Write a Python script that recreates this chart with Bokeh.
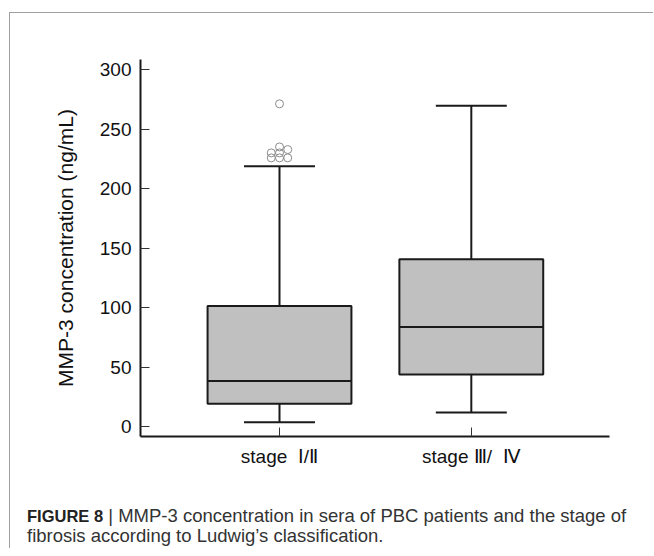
from bokeh.plotting import figure
from bokeh.models import Div
from bokeh.layouts import column
from bokeh.embed import file_html
from bokeh.resources import INLINE

# ---- data ----
categories = ["stage\u00a0 Ⅰ/Ⅱ", "stage Ⅲ/\u00a0 Ⅳ"]
lower_whisker = [4.0, 12.2]
q1 = [19.5, 44.1]
median = [38.5, 83.9]
q3 = [101.5, 140.8]
upper_whisker = [218.9, 269.6]
outlier_group = [0, 0, 0, 0, 0, 0, 0, 0]
outlier_jitter = [0.0, 0.0, 0.043, -0.043, 0.0, -0.043, 0.0, 0.043]
outlier_values = [271.3, 235.1, 232.9, 230.1, 230.1, 225.9, 225.9, 225.9]
y_ticks = [0, 50, 100, 150, 200, 250, 300]
y_label = "MMP-3 concentration (ng/mL)"
caption_bold = "FIGURE 8"
caption_line1 = "| MMP-3 concentration in sera of PBC patients and the stage of"
caption_line2 = "fibrosis according to Ludwig’s classification."

FONT = "Liberation Sans"
xpos = [i + 1 for i in range(len(categories))]
box_w = 0.75
cap_w = 0.37

p = figure(width=643, height=467, x_range=(0.2753, 2.7205), y_range=(-8, 308.5),
           output_backend="svg", toolbar_location=None,
           min_border_left=130, min_border_right=44, min_border_top=46, min_border_bottom=44)
p.outline_line_color = None
p.xgrid.visible = False
p.ygrid.visible = False
p.background_fill_color = "white"
p.border_fill_color = "white"

# whiskers
p.segment(x0=xpos, x1=xpos, y0=q3, y1=upper_whisker, line_color="#1a1a1a", line_width=2)
p.segment(x0=xpos, x1=xpos, y0=q1, y1=lower_whisker, line_color="#1a1a1a", line_width=2)
p.segment(x0=[x - cap_w / 2 for x in xpos], x1=[x + cap_w / 2 for x in xpos],
          y0=upper_whisker, y1=upper_whisker, line_color="#1a1a1a", line_width=2)
p.segment(x0=[x - cap_w / 2 for x in xpos], x1=[x + cap_w / 2 for x in xpos],
          y0=lower_whisker, y1=lower_whisker, line_color="#1a1a1a", line_width=2)
# boxes
p.vbar(x=xpos, width=box_w, bottom=q1, top=q3, fill_color="#c0c0c0",
       line_color="#1a1a1a", line_width=2)
p.segment(x0=[x - box_w / 2 for x in xpos], x1=[x + box_w / 2 for x in xpos],
          y0=median, y1=median, line_color="#1a1a1a", line_width=2)
# outliers
ox = [xpos[g] + j for g, j in zip(outlier_group, outlier_jitter)]
p.scatter(x=ox, y=outlier_values, size=8, marker="circle", fill_color=None,
          line_color="#8c8c8c", line_width=1)

# axes
for ax in (p.xaxis[0], p.yaxis[0]):
    ax.axis_line_color = "#1a1a1a"
    ax.axis_line_width = 2
    ax.major_tick_in = 9
    ax.major_tick_out = 0
    ax.minor_tick_line_color = None
    ax.major_tick_line_color = "#333333"
    ax.major_tick_line_width = 1
    ax.major_label_text_font = FONT
    ax.major_label_text_font_size = "19px"
    ax.major_label_text_color = "#111111"
    ax.major_label_standoff = 9

p.xaxis.ticker = xpos
p.xaxis.major_label_overrides = {x: c for x, c in zip(xpos, categories)}
p.yaxis.ticker = y_ticks
p.yaxis.axis_label = y_label
p.yaxis.axis_label_text_font = FONT
p.yaxis.axis_label_text_font_size = "21px"
p.yaxis.axis_label_text_font_style = "normal"
p.yaxis.axis_label_text_color = "#111111"
p.yaxis.axis_label_standoff = 20

caption = Div(
    text=f'<span style="font-weight:bold;font-size:16.5px;color:#222">{caption_bold}</span> '
         f'{caption_line1}<br>{caption_line2}',
    width=626, height=42, margin=(26, 0, 0, 17),
    styles={"font-family": FONT, "font-size": "18.5px", "line-height": "20px",
            "color": "#333333", "white-space": "nowrap"})

layout = column(p, caption, margin=(12, 0, 0, 9), spacing=0,
                styles={"border-top": "1px solid #a0a0a0", "border-left": "1px solid #a0a0a0",
                        "background-color": "white"})

open("out.html", "w").write(file_html(layout, INLINE))
